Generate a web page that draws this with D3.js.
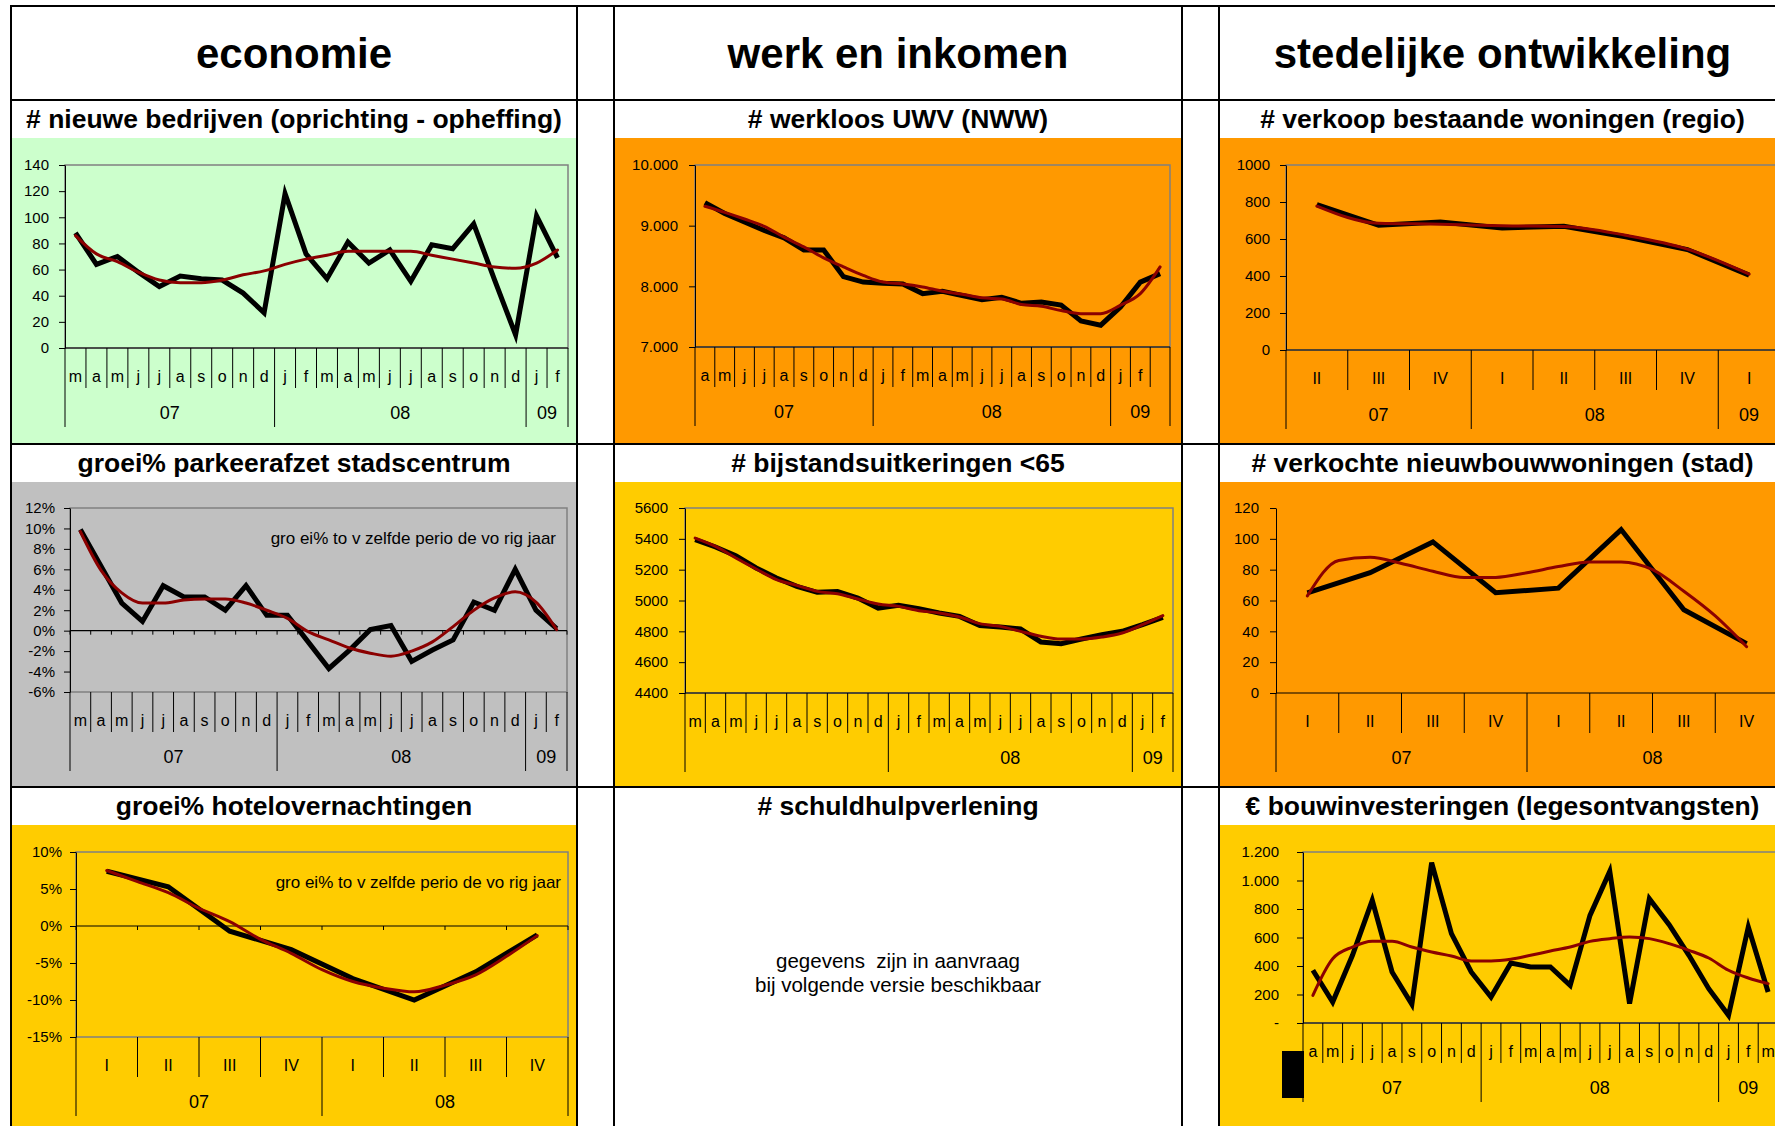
<!DOCTYPE html>
<html>
<head>
<meta charset="utf-8">
<script src="https://cdn.jsdelivr.net/npm/d3@7"></script>
<style>
  body { margin: 0; background: #fff; }
  text { font-family: "Liberation Sans", Arial, sans-serif; fill: #000; }
</style>
</head>
<body>
<svg id="chart" width="1775" height="1126"></svg>
<script>
// ---- Data ----
var columnHeads = ["economie", "werk en inkomen", "stedelijke ontwikkeling"];

// nieuwe bedrijven
var bedrijvenCats = ["m","a","m","j","j","a","s","o","n","d","j","f","m","a","m","j","j","a","s","o","n","d","j","f"];
var bedrijvenYears = [["07", 10], ["08", 12], ["09", 2]];
var bedrijvenValues = [88,64,70,58,47,55,53,52,42,27,118,72,53,81,65,75,51,79,76,95,52,10,101,69];
var bedrijvenTrend = [86,72,66,58,52,50,50,52,56,59,64,68,71,74,74,74,74,71,68,65,62,61,65,75];

// werkloos UWV
var werkloosCats = ["a","m","j","j","a","s","o","n","d","j","f","m","a","m","j","j","a","s","o","n","d","j","f",""];
var werkloosYears = [["07", 9], ["08", 12], ["09", 3]];
var werkloosValues = [9380,9200,9060,8920,8800,8600,8600,8160,8070,8050,8040,7880,7920,7850,7780,7820,7720,7740,7690,7430,7360,7660,8070,8210];
var werkloosTrend = [9320,9220,9110,8990,8810,8650,8470,8320,8180,8070,8040,7990,7920,7870,7810,7790,7700,7670,7600,7550,7550,7690,7880,8320];

// verkoop bestaande woningen
var woningenCats = ["II","III","IV","I","II","III","IV","I"];
var woningenYears = [["07", 3], ["08", 4], ["09", 1]];
var woningenValues = [786,674,692,660,669,612,543,405];
var woningenTrend = [778,685,680,672,668,620,545,410];

// parkeerafzet
var parkeerCats = ["m","a","m","j","j","a","s","o","n","d","j","f","m","a","m","j","j","a","s","o","n","d","j","f"];
var parkeerYears = [["07", 10], ["08", 12], ["09", 2]];
var parkeerValues = [9.9,6.3,2.7,0.9,4.4,3.3,3.3,2.0,4.4,1.5,1.5,-1.1,-3.7,-1.9,0.1,0.5,-3.0,-1.9,-0.9,2.8,2.0,6.0,2.0,0.2];
var parkeerTrend = [9.7,5.9,3.7,2.7,2.7,3.0,3.1,3.1,2.7,2.0,1.2,-0.1,-0.9,-1.7,-2.2,-2.5,-2.0,-1.1,0.4,2.0,3.2,3.8,2.8,0.1];

// bijstandsuitkeringen
var bijstandCats = ["m","a","m","j","j","a","s","o","n","d","j","f","m","a","m","j","j","a","s","o","n","d","j","f"];
var bijstandYears = [["", 10], ["08", 12], ["09", 2]];
var bijstandValues = [5395,5347,5291,5211,5146,5092,5053,5059,5016,4951,4969,4947,4919,4897,4837,4828,4815,4731,4720,4750,4778,4800,4843,4891];
var bijstandTrend = [5405,5351,5276,5204,5135,5098,5059,5044,5010,4977,4962,4934,4919,4893,4850,4832,4800,4768,4750,4750,4763,4789,4843,4902];

// verkochte nieuwbouwwoningen (trend read every half quarter)
var nieuwbouwCats = ["I","II","III","IV","I","II","III","IV"];
var nieuwbouwYears = [["07", 4], ["08", 4]];
var nieuwbouwValues = [65,78,98,65,68,106,54,32];
var nieuwbouwTrend = [63,86,88,84,79,75,75,78,82,85,85,80,66,50,30];

// hotelovernachtingen (trend read every half quarter)
var hotelCats = ["I","II","III","IV","I","II","III","IV"];
var hotelYears = [["07", 4], ["08", 4]];
var hotelValues = [7.4,5.3,-0.7,-3.2,-7.1,-10.0,-6.2,-1.2];
var hotelTrend = [7.5,6.0,4.5,2.4,0.6,-1.8,-3.7,-5.9,-7.5,-8.4,-8.9,-8.0,-6.6,-4.1,-1.3];

// bouwinvesteringen
var bouwCats = ["a","m","j","j","a","s","o","n","d","j","f","m","a","m","j","j","a","s","o","n","d","j","f","m"];
var bouwYears = [["07", 9], ["08", 12], ["09", 3]];
var bouwValues = [370,147,475,861,358,131,1125,627,358,182,421,393,393,264,755,1064,136,872,690,475,241,54,674,218];
var bouwTrend = [194,451,533,573,573,533,498,470,435,435,447,475,505,533,573,592,603,592,557,510,456,370,316,276];

var noteText = "gro ei% to v zelfde perio de vo rig jaar";

// ---- Layout ----
var nl = d3.formatLocale({ decimal: ",", thousands: ".", grouping: [3], currency: ["€", ""] });
var fmtThousands = nl.format(",");
var fmtPlain = function(d) { return d; };
var fmtPct = function(d) { return d + "%"; };
var fmtDash = function(d) { return d === 0 ? "-" : fmtThousands(d); };

var colX = [[11, 577], [614, 1182], [1219, 1786]];
var rowLine = [100, 444, 787];
var bgBottom = [443, 786, 1126];

var svg = d3.select("#chart");

var cells = [
  { col: 0, row: 0, bg: "#CCFFCC", title: "# nieuwe bedrijven (oprichting - opheffing)" },
  { col: 1, row: 0, bg: "#FF9900", title: "# werkloos UWV (NWW)" },
  { col: 2, row: 0, bg: "#FF9900", title: "# verkoop bestaande woningen (regio)" },
  { col: 0, row: 1, bg: "#C0C0C0", title: "groei% parkeerafzet stadscentrum" },
  { col: 1, row: 1, bg: "#FFCC00", title: "# bijstandsuitkeringen <65" },
  { col: 2, row: 1, bg: "#FF9900", title: "# verkochte nieuwbouwwoningen (stad)" },
  { col: 0, row: 2, bg: "#FFCC00", title: "groei% hotelovernachtingen" },
  { col: 1, row: 2, bg: "#FFFFFF", title: "# schuldhulpverlening" },
  { col: 2, row: 2, bg: "#FFCC00", title: "€ bouwinvesteringen (legesontvangsten)" }
];

// backgrounds and titles
cells.forEach(function(c) {
  var x0 = colX[c.col][0], x1 = colX[c.col][1];
  svg.append("rect")
    .attr("x", x0).attr("y", rowLine[c.row] + 38)
    .attr("width", x1 - x0).attr("height", bgBottom[c.row] - rowLine[c.row] - 38)
    .attr("fill", c.bg);
  svg.append("text")
    .attr("x", (x0 + x1) / 2).attr("y", rowLine[c.row] + 28)
    .attr("text-anchor", "middle")
    .style("font-size", "26.5px").style("font-weight", "bold")
    .text(c.title);
});

columnHeads.forEach(function(h, i) {
  svg.append("text")
    .attr("x", (colX[i][0] + colX[i][1]) / 2).attr("y", 68)
    .attr("text-anchor", "middle")
    .style("font-size", "42px").style("font-weight", "bold")
    .text(h);
});

function drawPanel(o) {
  var g = svg.append("g").attr("class", "panel");
  var n = o.cats.length;

  var x = d3.scaleBand().domain(d3.range(n)).range([o.left, o.right]).padding(0);
  var y = d3.scaleLinear().domain(o.domain).range([o.bottom, o.top]);
  var bw = x.bandwidth();
  var cx = function(p) { return x(0) + bw / 2 + p * bw; };

  // Plot area border
  if (o.border) {
    g.append("rect")
      .attr("x", o.left).attr("y", o.top)
      .attr("width", o.right - o.left).attr("height", o.bottom - o.top)
      .attr("fill", "none").attr("stroke", "#808080").attr("stroke-width", 1.5);
  }

  // Y axis
  var yAxis = d3.axisLeft(y)
    .tickValues(d3.range(o.domain[0], o.domain[1] + o.step / 2, o.step))
    .tickFormat(o.format)
    .tickSize(6).tickSizeOuter(0).tickPadding(o.pad);
  var ya = g.append("g")
    .attr("transform", "translate(" + o.left + ",0)")
    .call(yAxis);
  // axis() sets its own font, so override afterwards
  ya.attr("font-family", null).attr("font-size", null);
  ya.selectAll("text").style("font-size", "15px");
  ya.selectAll("line, path").attr("stroke", "#000");

  // Category axis
  var axisY = o.zeroAxis ? y(0) : o.bottom;
  g.append("line")
    .attr("x1", o.left).attr("x2", o.right)
    .attr("y1", axisY).attr("y2", axisY)
    .attr("stroke", "#000").attr("stroke-width", 1.2);

  var bounds = [0];
  o.years.forEach(function(yr) { bounds.push(bounds[bounds.length - 1] + yr[1]); });

  d3.range(n + 1).forEach(function(i) {
    var xi = o.left + i * bw;
    var isYear = bounds.indexOf(i) >= 0;
    if (o.zeroAxis) {
      g.append("line").attr("x1", xi).attr("x2", xi)
        .attr("y1", axisY).attr("y2", axisY + 4)
        .attr("stroke", "#000");
    }
    g.append("line").attr("x1", xi).attr("x2", xi)
      .attr("y1", o.bottom).attr("y2", o.bottom + (isYear ? 79 : 40))
      .attr("stroke", "#000");
  });

  g.selectAll(".cat").data(o.cats).enter().append("text")
    .attr("x", function(d, i) { return cx(i); })
    .attr("y", o.bottom + 28).attr("dy", "0.36em")
    .attr("text-anchor", "middle")
    .style("font-size", "16px")
    .text(function(d) { return d; });

  g.selectAll(".yr").data(o.years).enter().append("text")
    .attr("x", function(d, i) { return o.left + (bounds[i] + d[1] / 2) * bw; })
    .attr("y", o.bottom + 65).attr("dy", "0.36em")
    .attr("text-anchor", "middle")
    .style("font-size", "18px")
    .text(function(d) { return d[0]; });

  if (o.note) {
    g.append("text")
      .attr("x", o.noteX).attr("y", o.noteY)
      .attr("text-anchor", "end")
      .style("font-size", "17px")
      .text(o.note);
  }

  var blackLine = d3.line()
    .x(function(d, i) { return cx(i); })
    .y(function(d) { return y(d); });
  var redLine = d3.line()
    .x(function(d, i) { return cx(i * o.trendStep); })
    .y(function(d) { return y(d); })
    .curve(d3.curveMonotoneX);

  g.append("path").datum(o.values)
    .attr("d", blackLine)
    .attr("fill", "none").attr("stroke", "#000")
    .attr("stroke-width", 5).attr("stroke-linejoin", "miter");
  g.append("path").datum(o.trend)
    .attr("d", redLine)
    .attr("fill", "none").attr("stroke", "#8B0000")
    .attr("stroke-width", 3).attr("stroke-linecap", "round");
}

drawPanel({ left: 65, right: 568, top: 165, bottom: 348, domain: [0, 140], step: 20, format: fmtPlain, pad: 10,
  border: true, cats: bedrijvenCats, years: bedrijvenYears, values: bedrijvenValues, trend: bedrijvenTrend, trendStep: 1 });

drawPanel({ left: 695, right: 1170, top: 165, bottom: 347, domain: [7000, 10000], step: 1000, format: fmtThousands, pad: 11,
  border: true, cats: werkloosCats, years: werkloosYears, values: werkloosValues, trend: werkloosTrend, trendStep: 1 });

drawPanel({ left: 1286, right: 1780, top: 165, bottom: 350, domain: [0, 1000], step: 200, format: fmtPlain, pad: 10,
  border: true, cats: woningenCats, years: woningenYears, values: woningenValues, trend: woningenTrend, trendStep: 1 });

drawPanel({ left: 70, right: 567, top: 508, bottom: 692, domain: [-6, 12], step: 2, format: fmtPct, pad: 9,
  border: true, zeroAxis: true, cats: parkeerCats, years: parkeerYears, values: parkeerValues, trend: parkeerTrend, trendStep: 1,
  note: noteText, noteX: 556, noteY: 544 });

drawPanel({ left: 685, right: 1173, top: 508, bottom: 693, domain: [4400, 5600], step: 200, format: fmtPlain, pad: 11,
  border: true, cats: bijstandCats, years: bijstandYears, values: bijstandValues, trend: bijstandTrend, trendStep: 1 });

drawPanel({ left: 1276, right: 1778, top: 508, bottom: 693, domain: [0, 120], step: 20, format: fmtPlain, pad: 11,
  border: false, cats: nieuwbouwCats, years: nieuwbouwYears, values: nieuwbouwValues, trend: nieuwbouwTrend, trendStep: 0.5 });

drawPanel({ left: 76, right: 568, top: 852, bottom: 1037, domain: [-15, 10], step: 5, format: fmtPct, pad: 8,
  border: true, zeroAxis: true, cats: hotelCats, years: hotelYears, values: hotelValues, trend: hotelTrend, trendStep: 0.5,
  note: noteText, noteX: 561, noteY: 888 });

drawPanel({ left: 1303, right: 1778, top: 852, bottom: 1023, domain: [0, 1200], step: 200, format: fmtDash, pad: 18,
  border: true, cats: bouwCats, years: bouwYears, values: bouwValues, trend: bouwTrend, trendStep: 1 });

// empty panel message
svg.append("text").attr("x", 898).attr("y", 968).attr("text-anchor", "middle")
  .attr("xml:space", "preserve")
  .style("font-size", "20.5px").text("gegevens  zijn in aanvraag");
svg.append("text").attr("x", 898).attr("y", 992).attr("text-anchor", "middle")
  .style("font-size", "20.5px").text("bij volgende versie beschikbaar");

// stray black block in the bouwinvesteringen panel
svg.append("rect").attr("x", 1282).attr("y", 1051).attr("width", 22).attr("height", 47).attr("fill", "#000");

// table grid
[6, 100, 444, 787].forEach(function(yy) {
  svg.append("line").attr("x1", 10).attr("x2", 1775).attr("y1", yy).attr("y2", yy)
    .attr("stroke", "#000").attr("stroke-width", 2);
});
[11, 577, 614, 1182, 1219].forEach(function(xx) {
  svg.append("line").attr("x1", xx).attr("x2", xx).attr("y1", 5).attr("y2", 1126)
    .attr("stroke", "#000").attr("stroke-width", 2);
});
</script>
</body>
</html>
